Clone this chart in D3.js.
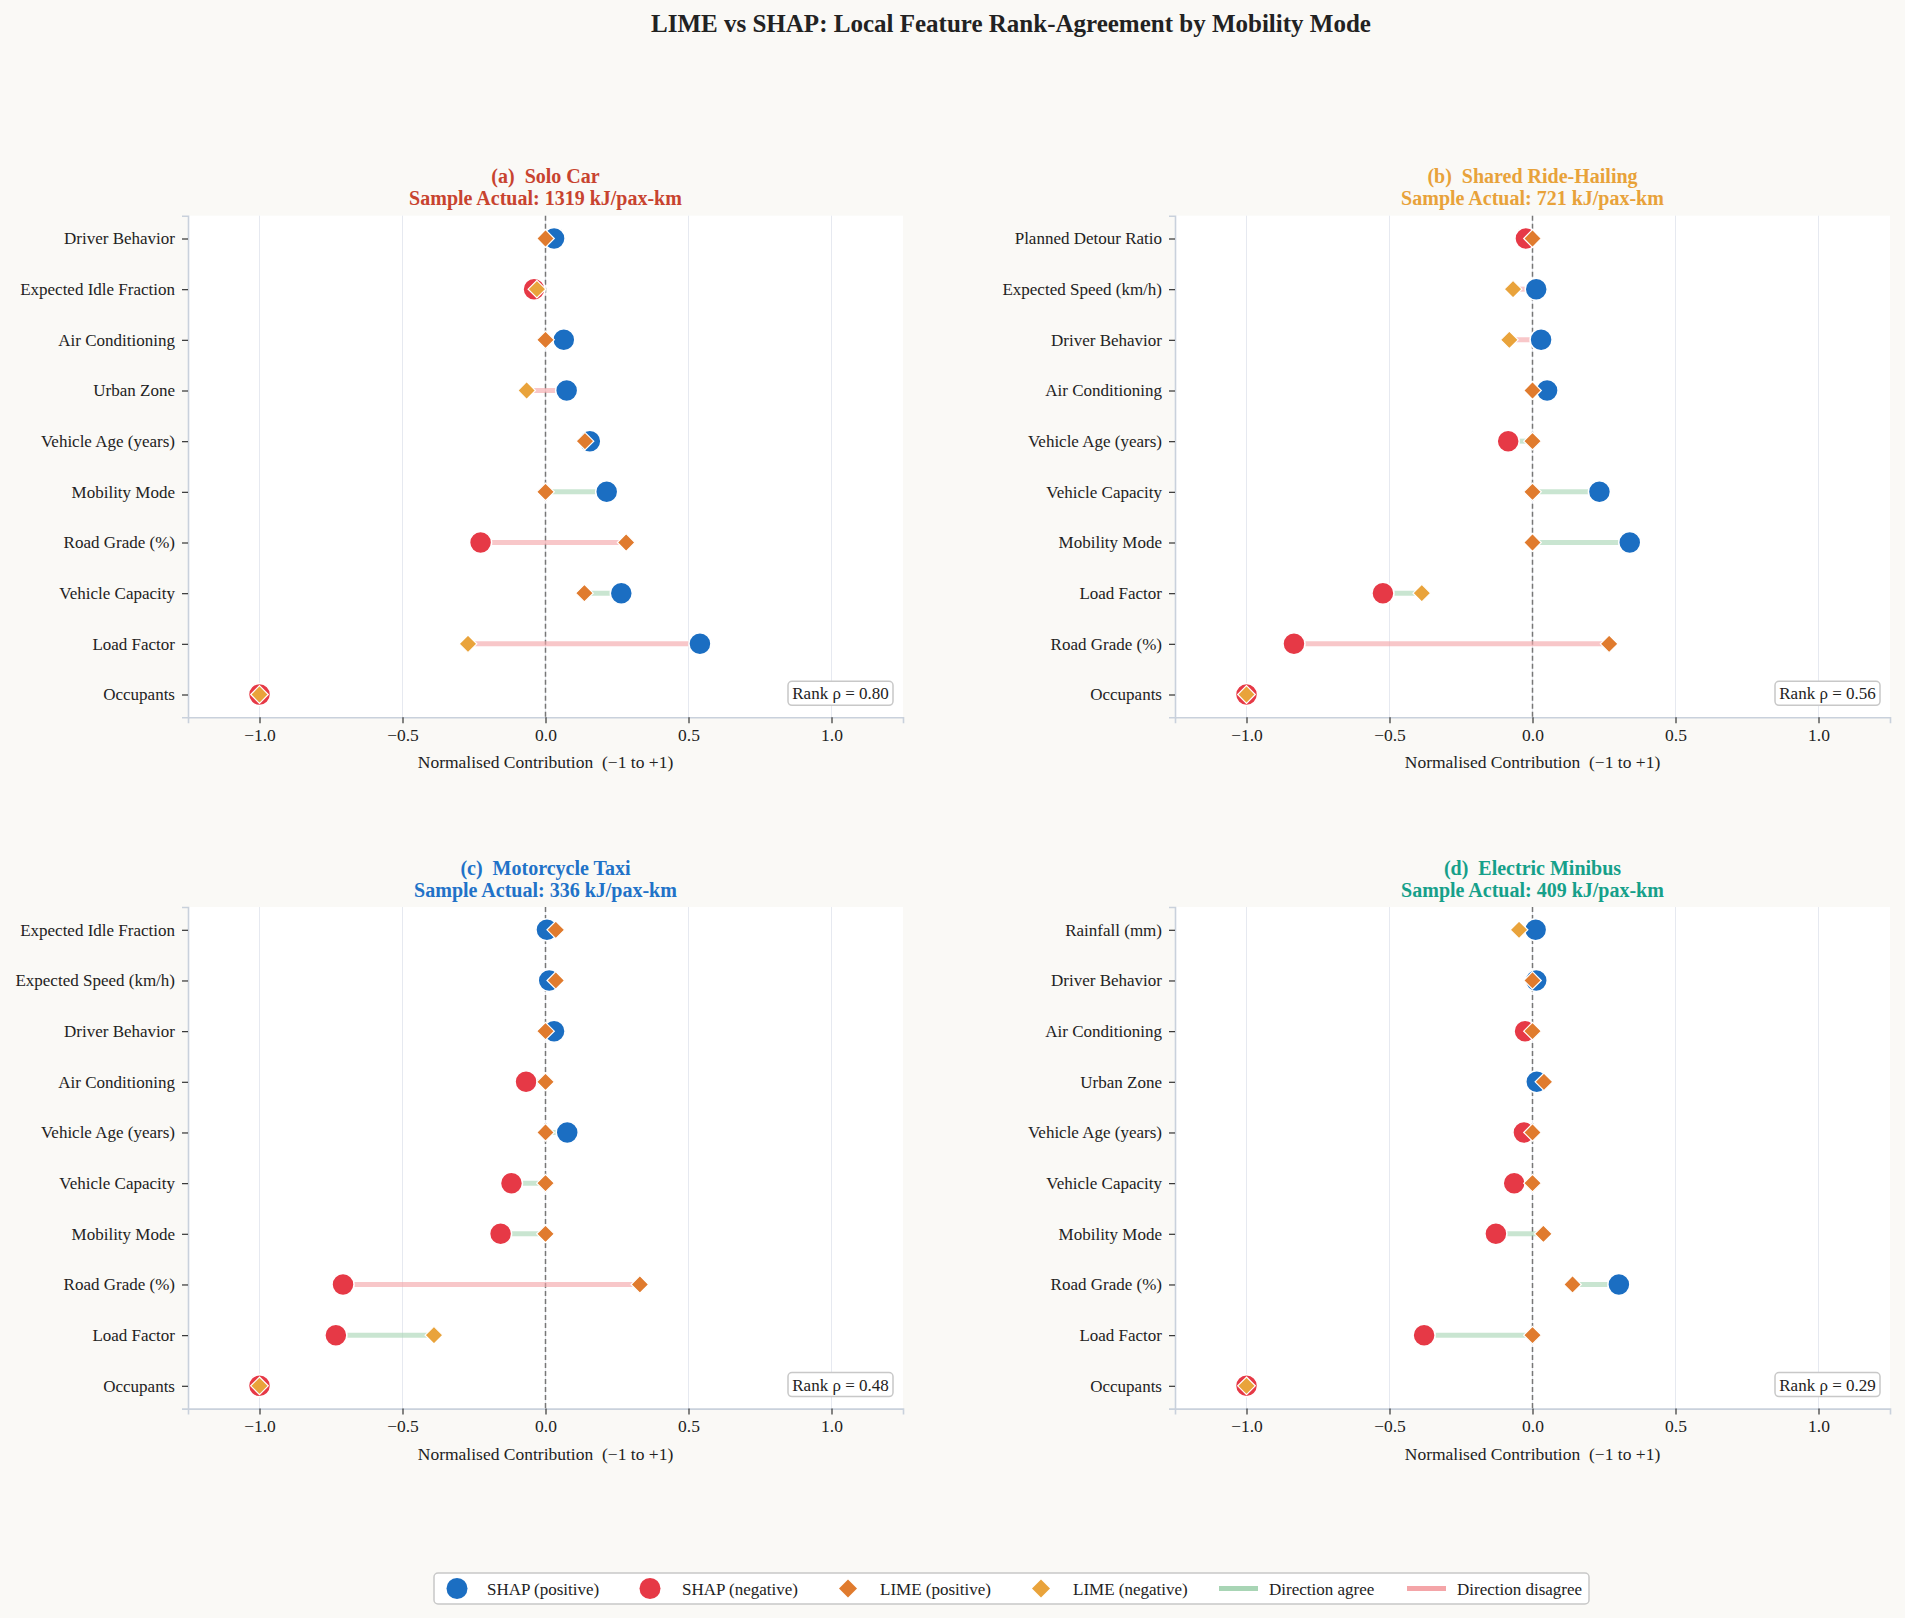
<!DOCTYPE html>
<html>
<head>
<meta charset="utf-8">
<script src="https://cdn.jsdelivr.net/npm/d3@7/dist/d3.min.js"></script>
<style>
  html, body { margin: 0; padding: 0; background: #faf9f6; }
  svg { display: block; font-family: "Liberation Serif", "Times New Roman", serif; }
</style>
</head>
<body>
<svg id="chart" width="1905" height="1618"></svg>
<script>
// ---------------- DATA ----------------
const xTicks = [-1.0, -0.5, 0.0, 0.5, 1.0];

const panelLetters = ["(a)", "(b)", "(c)", "(d)"];
const panelModes = ["Solo Car", "Shared Ride-Hailing", "Motorcycle Taxi", "Electric Minibus"];
const sampleActual = [1319, 721, 336, 409];
const rankRho = [0.80, 0.56, 0.48, 0.29];

const featuresA = ["Driver Behavior", "Expected Idle Fraction", "Air Conditioning", "Urban Zone", "Vehicle Age (years)", "Mobility Mode", "Road Grade (%)", "Vehicle Capacity", "Load Factor", "Occupants"];
const shapA = [0.03, -0.04, 0.064, 0.074, 0.155, 0.214, -0.227, 0.265, 0.54, -1.0];
const limeA = [0.0, -0.03, 0.0, -0.066, 0.138, 0.0, 0.282, 0.136, -0.271, -1.0];
const agreeA = [true, true, true, false, true, true, false, true, false, true];

const featuresB = ["Planned Detour Ratio", "Expected Speed (km/h)", "Driver Behavior", "Air Conditioning", "Vehicle Age (years)", "Vehicle Capacity", "Mobility Mode", "Load Factor", "Road Grade (%)", "Occupants"];
const shapB = [-0.023, 0.013, 0.03, 0.051, -0.085, 0.234, 0.34, -0.523, -0.834, -1.0];
const limeB = [0.0, -0.068, -0.081, 0.0, 0.0, 0.0, 0.0, -0.387, 0.268, -1.0];
const agreeB = [true, false, false, true, true, true, true, true, false, true];

const featuresC = ["Expected Idle Fraction", "Expected Speed (km/h)", "Driver Behavior", "Air Conditioning", "Vehicle Age (years)", "Vehicle Capacity", "Mobility Mode", "Road Grade (%)", "Load Factor", "Occupants"];
const shapC = [0.005, 0.013, 0.03, -0.068, 0.076, -0.119, -0.157, -0.708, -0.733, -1.0];
const limeC = [0.036, 0.036, 0.0, 0.0, 0.0, 0.0, 0.0, 0.33, -0.39, -1.0];
const agreeC = [true, true, true, true, true, true, true, false, true, true];

const featuresD = ["Rainfall (mm)", "Driver Behavior", "Air Conditioning", "Urban Zone", "Vehicle Age (years)", "Vehicle Capacity", "Mobility Mode", "Road Grade (%)", "Load Factor", "Occupants"];
const shapD = [0.011, 0.013, -0.026, 0.015, -0.03, -0.064, -0.128, 0.302, -0.379, -1.0];
const limeD = [-0.047, 0.0, 0.0, 0.04, 0.0, 0.0, 0.038, 0.14, 0.0, -1.0];
const agreeD = [false, true, true, true, true, true, true, true, true, true];

const legendLabels = ["SHAP (positive)", "SHAP (negative)", "LIME (positive)", "LIME (negative)", "Direction agree", "Direction disagree"];

// ---------------- STYLE ----------------
const C = {
  shapPos: "#1b6ec2", shapNeg: "#e63946",
  limePos: "#e07b2e", limeNeg: "#e9a33b",
  agree: "#a8d5b5", disagree: "#f4a5a8",
  spine: "#c9d1dc", grid: "#e6e9f0", text: "#222222"
};
const titleColors = ["#c8432f", "#e8a23a", "#2172c8", "#16a08a"];
const FONT = 17;

const panels = [
  { f: featuresA, s: shapA, l: limeA, a: agreeA, x0: 188, y0: 215.7 },
  { f: featuresB, s: shapB, l: limeB, a: agreeB, x0: 1175, y0: 215.7 },
  { f: featuresC, s: shapC, l: limeC, a: agreeC, x0: 188, y0: 907 },
  { f: featuresD, s: shapD, l: limeD, a: agreeD, x0: 1175, y0: 907 }
];
const PW = 715, PH = 501.6;

const svg = d3.select("#chart");
svg.append("rect").attr("width", 1905).attr("height", 1618).attr("fill", "#faf9f6");

// Suptitle
svg.append("text").attr("x", 1011).attr("y", 31.5).attr("text-anchor", "middle")
  .attr("font-size", 25).attr("font-weight", "bold").attr("fill", "#222")
  .text("LIME vs SHAP: Local Feature Rank-Agreement by Mobility Mode");

function diamondPath(h) { return `M0,${-h}L${h},0L0,${h}L${-h},0Z`; }
const fmt = d => d3.format(".1f")(d).replace("-", "\u2212");

panels.forEach((p, pi) => {
  const g = svg.append("g").attr("transform", `translate(${p.x0},${p.y0})`);
  const x = d3.scaleLinear().domain([-1.25, 1.25]).range([0, PW]);
  const y = d3.scaleLinear().domain([-0.45, p.f.length - 1 + 0.45]).range([0, PH]);

  g.append("rect").attr("width", PW).attr("height", PH).attr("fill", "#ffffff");

  // grid
  g.selectAll(".grid").data(xTicks).join("line")
    .attr("x1", d => x(d)).attr("x2", d => x(d)).attr("y1", 0).attr("y2", PH)
    .attr("stroke", C.grid).attr("stroke-width", 1);

  // zero line
  g.append("line").attr("x1", x(0)).attr("x2", x(0)).attr("y1", 0).attr("y2", PH)
    .attr("stroke", "#777").attr("stroke-width", 1.5).attr("stroke-dasharray", "5,3");

  // x axis
  const xAxis = d3.axisBottom(x).tickValues(xTicks).tickFormat(fmt).tickSize(6).tickPadding(5);
  const xg = g.append("g").attr("transform", `translate(0,${PH})`).call(xAxis);
  xg.select(".domain").attr("stroke", C.spine).attr("stroke-width", 1.6);
  xg.selectAll(".tick line").attr("stroke", "#333").attr("stroke-width", 1.2);
  xg.selectAll(".tick text").attr("font-size", FONT + 0.5).attr("fill", C.text)
    .attr("font-family", '"Liberation Serif", "Times New Roman", serif');

  // y axis
  const yAxis = d3.axisLeft(y).tickValues(d3.range(p.f.length)).tickFormat(i => p.f[i]).tickSize(6).tickPadding(7);
  const yg = g.append("g").call(yAxis);
  yg.select(".domain").attr("stroke", C.spine).attr("stroke-width", 1.6);
  yg.selectAll(".tick line").attr("stroke", "#333").attr("stroke-width", 1.2);
  yg.selectAll(".tick text").attr("font-size", FONT).attr("fill", C.text)
    .attr("font-family", '"Liberation Serif", "Times New Roman", serif');

  const rows = p.f.map((name, i) => ({ i, s: p.s[i], l: p.l[i], a: p.a[i] }));

  // connectors
  g.selectAll(".conn").data(rows).join("line")
    .attr("x1", d => x(d.s)).attr("x2", d => x(d.l))
    .attr("y1", d => y(d.i)).attr("y2", d => y(d.i))
    .attr("stroke", d => d.a ? C.agree : C.disagree)
    .attr("stroke-opacity", 0.62).attr("stroke-width", 5);

  // SHAP circles
  g.selectAll(".shap").data(rows).join("circle")
    .attr("cx", d => x(d.s)).attr("cy", d => y(d.i)).attr("r", 11)
    .attr("fill", d => d.s >= 0 ? C.shapPos : C.shapNeg)
    .attr("stroke", "#fff").attr("stroke-width", 1.5);

  // LIME diamonds
  g.selectAll(".lime").data(rows).join("path")
    .attr("d", diamondPath(8.8))
    .attr("transform", d => `translate(${x(d.l)},${y(d.i)})`)
    .attr("fill", d => d.l >= 0 ? C.limePos : C.limeNeg)
    .attr("stroke", "#fff").attr("stroke-width", 1.2);

  // titles
  g.append("text").attr("x", PW / 2).attr("y", -32.5).attr("text-anchor", "middle")
    .attr("font-size", 20).attr("font-weight", "bold").attr("fill", titleColors[pi])
    .attr("xml:space", "preserve")
    .text(`${panelLetters[pi]}  ${panelModes[pi]}`);
  g.append("text").attr("x", PW / 2).attr("y", -10.5).attr("text-anchor", "middle")
    .attr("font-size", 20).attr("font-weight", "bold").attr("fill", titleColors[pi])
    .text(`Sample Actual: ${sampleActual[pi]} kJ/pax-km`);

  // x label
  g.append("text").attr("x", PW / 2).attr("y", PH + 51).attr("text-anchor", "middle")
    .attr("font-size", FONT + 0.5).attr("fill", C.text).attr("xml:space", "preserve")
    .text("Normalised Contribution  (\u22121 to +1)");

  // rank box
  const bw = 105, bh = 24;
  const bx = PW - 10 - bw, by = PH - 12 - bh;
  g.append("rect").attr("x", bx).attr("y", by).attr("width", bw).attr("height", bh)
    .attr("rx", 4).attr("fill", "#fff").attr("stroke", "#c8c8c8").attr("stroke-width", 1.5);
  g.append("text").attr("x", bx + bw / 2).attr("y", by + bh / 2 + 6).attr("text-anchor", "middle")
    .attr("font-size", FONT).attr("fill", C.text)
    .text(`Rank \u03c1 = ${rankRho[pi].toFixed(2)}`);
});

// ---------------- LEGEND ----------------
const lg = svg.append("g");
lg.append("rect").attr("x", 434).attr("y", 1573).attr("width", 1155).attr("height", 31)
  .attr("rx", 4).attr("fill", "#fff").attr("stroke", "#c8c8c8").attr("stroke-width", 1.5);
const ly = 1588.5;
const legendItems = [
  { type: "circle", color: C.shapPos, mx: 457, tx: 487 },
  { type: "circle", color: C.shapNeg, mx: 650, tx: 682 },
  { type: "diamond", color: C.limePos, mx: 848, tx: 880 },
  { type: "diamond", color: C.limeNeg, mx: 1041, tx: 1073 },
  { type: "line", color: C.agree, mx: 1219, tx: 1269 },
  { type: "line", color: C.disagree, mx: 1407, tx: 1457 }
];
legendItems.forEach((it, k) => {
  if (it.type === "circle") {
    lg.append("circle").attr("cx", it.mx).attr("cy", ly).attr("r", 10.5).attr("fill", it.color);
  } else if (it.type === "diamond") {
    lg.append("path").attr("d", diamondPath(9)).attr("transform", `translate(${it.mx},${ly})`).attr("fill", it.color);
  } else {
    lg.append("line").attr("x1", it.mx).attr("x2", it.mx + 39).attr("y1", ly).attr("y2", ly)
      .attr("stroke", it.color).attr("stroke-width", 5);
  }
  lg.append("text").attr("x", it.tx).attr("y", ly + 6).attr("font-size", FONT).attr("fill", C.text)
    .text(legendLabels[k]);
});
</script>
</body>
</html>
